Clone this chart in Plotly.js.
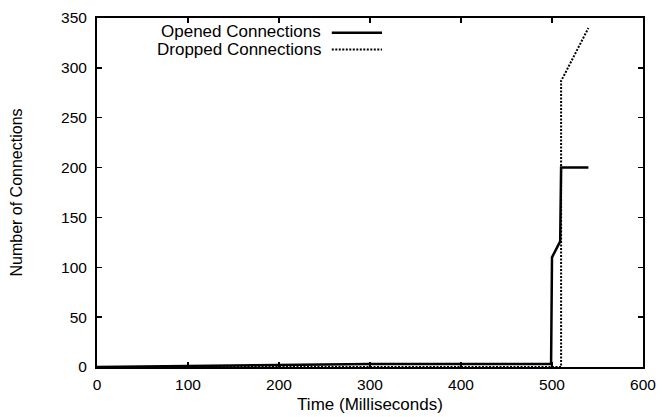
<!DOCTYPE html>
<html>
<head>
<meta charset="utf-8">
<script src="https://cdn.plot.ly/plotly-3.0.1.min.js"></script>
<style>html,body{margin:0;padding:0;background:#fff;}#chart{width:662px;height:417px;}</style>
</head>
<body>
<div id="chart"></div>
<script>
// Data
var openedX = [0, 100, 200, 300, 400, 499, 500, 509, 510, 540];
var openedY = [0, 1, 2.5, 3, 3, 3, 110, 126, 200, 200];
var droppedX = [0, 510, 510, 513, 540];
var droppedY = [0, 0, 287, 292, 340];
var seriesNames = ["Opened Connections", "Dropped Connections"];
var xTicks = [0, 100, 200, 300, 400, 500, 600];
var yTicks = [0, 50, 100, 150, 200, 250, 300, 350];

var FONT = "Liberation Sans, Arial, Helvetica, sans-serif";

var traces = [
  {x: droppedX, y: droppedY, type: "scatter", mode: "lines", name: seriesNames[1],
   line: {color: "#000", width: 2, dash: "2px,1.5px"}, showlegend: false},
  {x: openedX, y: openedY, type: "scatter", mode: "lines", name: seriesNames[0],
   line: {color: "#000", width: 2.5}, showlegend: false}
];

var layout = {
  width: 662, height: 417,
  margin: {l: 97, r: 19, t: 18, b: 50},
  paper_bgcolor: "#fff", plot_bgcolor: "#fff",
  font: {family: FONT, size: 15, color: "#000"},
  showlegend: false,
  xaxis: {
    range: [0, 600], tickvals: xTicks, ticktext: xTicks.map(String),
    ticks: "inside", ticklen: 5, tickwidth: 1.5, tickcolor: "#000",
    showline: true, linewidth: 2, linecolor: "#000", mirror: "ticks",
    showgrid: false, zeroline: false, fixedrange: true,
    ticklabelstandoff: 2,
    tickfont: {family: FONT, size: 15.5},
    title: {text: "Time (Milliseconds)", font: {family: FONT, size: 17}, standoff: 7}
  },
  yaxis: {
    range: [0, 350], tickvals: yTicks, ticktext: yTicks.map(String),
    ticks: "inside", ticklen: 5, tickwidth: 1.5, tickcolor: "#000",
    showline: true, linewidth: 2, linecolor: "#000", mirror: "ticks",
    showgrid: false, zeroline: false, fixedrange: true,
    ticklabelstandoff: 5,
    tickfont: {family: FONT, size: 15.5},
    title: {text: "Number of Connections", font: {family: FONT, size: 16}, standoff: 34}
  },
  annotations: [
    {xref: "paper", yref: "paper", x: 0.414, y: 0.961, xanchor: "right", yanchor: "middle",
     text: seriesNames[0], showarrow: false, font: {family: FONT, size: 17}},
    {xref: "paper", yref: "paper", x: 0.414, y: 0.910, xanchor: "right", yanchor: "middle",
     text: seriesNames[1], showarrow: false, font: {family: FONT, size: 17}}
  ],
  shapes: [
    {type: "line", xref: "paper", yref: "paper", x0: 0.430, x1: 0.522, y0: 0.958, y1: 0.958,
     line: {color: "#000", width: 2.5}},
    {type: "line", xref: "paper", yref: "paper", x0: 0.430, x1: 0.522, y0: 0.910, y1: 0.910,
     line: {color: "#000", width: 2, dash: "2px,1.5px"}}
  ]
};

Plotly.newPlot("chart", traces, layout, {displayModeBar: false, staticPlot: true});
</script>
</body>
</html>
